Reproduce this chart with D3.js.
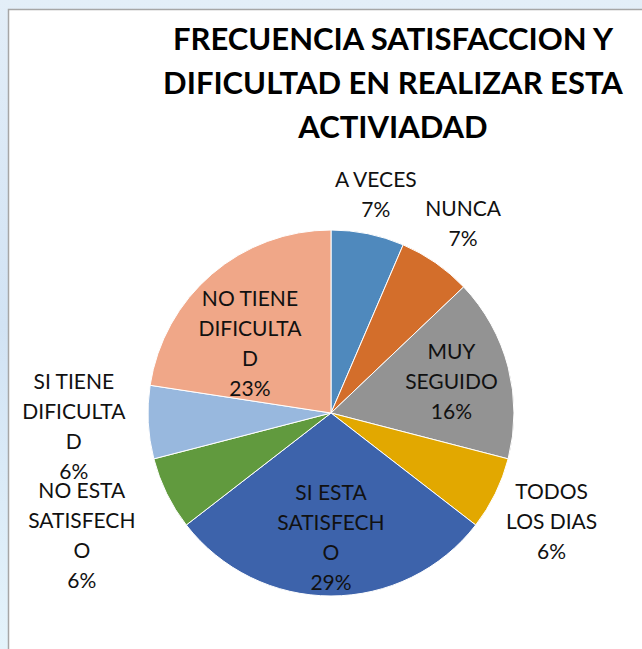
<!DOCTYPE html>
<html>
<head>
<meta charset="utf-8">
<script src="https://cdn.jsdelivr.net/npm/d3@7"></script>
<style>
  body { margin: 0; background: #fff; }
  text { font-family: Lato, "Open Sans", sans-serif; }
</style>
</head>
<body>
<svg id="chart"></svg>
<script>
// slices, clockwise from 12 o'clock
const categories = ['A VECES', 'NUNCA', 'MUY SEGUIDO', 'TODOS LOS DIAS', 'SI ESTA SATISFECHO',
  'NO ESTA SATISFECHO', 'SI TIENE DIFICULTAD', 'NO TIENE DIFICULTAD'];
const counts = [2, 2, 5, 2, 9, 2, 2, 7];
const pctLabels = ['7%', '7%', '16%', '6%', '29%', '6%', '6%', '23%'];
const insideLabel = [false, false, true, false, true, false, false, true];
const colors = ['#4f89bd', '#d36e2b', '#939393', '#e2a800', '#3d63ab', '#619a3e', '#98b8de', '#f0a788'];
const titleLines = ['FRECUENCIA SATISFACCION Y', 'DIFICULTAD EN REALIZAR ESTA', 'ACTIVIADAD'];

const W = 642, H = 649;
const cx = 331, cy = 413, r = 183;
const fontSize = 21, lineH = 30;

const svg = d3.select('#chart').attr('width', W).attr('height', H);

// backdrop outside the chart frame
const defs = svg.append('defs');
const grad = defs.append('linearGradient').attr('id', 'bg').attr('x1', 0).attr('y1', 0).attr('x2', 0).attr('y2', 1);
grad.append('stop').attr('offset', '0%').attr('stop-color', '#e3eef8');
grad.append('stop').attr('offset', '50%').attr('stop-color', '#d2e3f4');
grad.append('stop').attr('offset', '100%').attr('stop-color', '#e4f3fb');
svg.append('rect').attr('width', W).attr('height', H).attr('fill', 'url(#bg)');

svg.append('rect')
  .attr('x', 8.5).attr('y', 9.5)
  .attr('width', W + 20).attr('height', H + 20)
  .attr('fill', '#fff')
  .attr('stroke', '#a6a6a6')
  .attr('stroke-width', 1.5);

// title
svg.append('text')
  .attr('text-anchor', 'middle')
  .attr('font-weight', 'bold')
  .attr('font-size', 31)
  .attr('fill', '#000')
  .selectAll('tspan')
  .data(titleLines)
  .join('tspan')
  .attr('x', 393)
  .attr('y', (d, i) => 50 + i * 44)
  .text(d => d);

const pie = d3.pie().sort(null).value(d => d);
const arcs = pie(counts);
const arc = d3.arc().innerRadius(0).outerRadius(r);

const g = svg.append('g').attr('transform', `translate(${cx},${cy})`);

g.selectAll('path')
  .data(arcs)
  .join('path')
  .attr('d', arc)
  .attr('fill', (d, i) => colors[i])
  .attr('stroke', '#fff')
  .attr('stroke-width', 1);

// wrap label text the way Excel does in its narrow label box
const measurer = svg.append('text').attr('font-size', fontSize).attr('visibility', 'hidden');
const textW = s => { measurer.text(s); return measurer.node().getComputedTextLength(); };
const maxW = Math.max(textW('SATISFECH'), textW('DIFICULTA')) + 1;

function wrap(label) {
  const lines = [];
  let cur = '';
  label.split(' ').forEach(word => {
    const tryLine = cur ? cur + ' ' + word : word;
    if (textW(tryLine) <= maxW) { cur = tryLine; return; }
    if (cur) lines.push(cur);
    cur = '';
    let chunk = '';
    for (const ch of word) {
      if (textW(chunk + ch) > maxW) { lines.push(chunk); chunk = ch; }
      else chunk += ch;
    }
    cur = chunk;
  });
  if (cur) lines.push(cur);
  return lines;
}

const labelData = arcs.map((a, i) => {
  const lines = wrap(categories[i]).concat(pctLabels[i]);
  const widths = lines.map(textW);
  const mid = (a.startAngle + a.endAngle) / 2;
  const dx = Math.sin(mid), dy = -Math.cos(mid);
  const halfH = lines.length * lineH / 2;
  if (insideLabel[i]) {
    const dist = r * 0.68;
    let x = dx * dist, y = dy * dist;
    // push the block down/up until its upper lines sit inside the circle
    lines.forEach((l, j) => {
      const edgeX = Math.abs(x) + widths[j] / 2;
      const lim = Math.sqrt(Math.max(0, r * r - edgeX * edgeX));
      const topY = y - halfH + j * lineH;
      if (topY < -lim) y += -lim - topY;
    });
    return { lines, x, y };
  }
  const halfW = d3.max(widths) / 2;
  const gap = dx < 0 ? 20 : 2;
  const dist = r + gap + Math.abs(dx) * halfW + Math.abs(dy) * halfH;
  return { lines, x: dx * dist, y: dy * dist };
});
measurer.remove();

g.selectAll('text.lbl')
  .data(labelData)
  .join('text')
  .attr('class', 'lbl')
  .attr('text-anchor', 'middle')
  .attr('font-size', fontSize)
  .attr('fill', '#111')
  .each(function (d) {
    const top = d.y - d.lines.length * lineH / 2;
    d3.select(this).selectAll('tspan')
      .data(d.lines)
      .join('tspan')
      .attr('x', d.x)
      .attr('y', (l, j) => top + j * lineH + lineH / 2 + 7.5)
      .text(l => l);
  });
</script>
</body>
</html>
